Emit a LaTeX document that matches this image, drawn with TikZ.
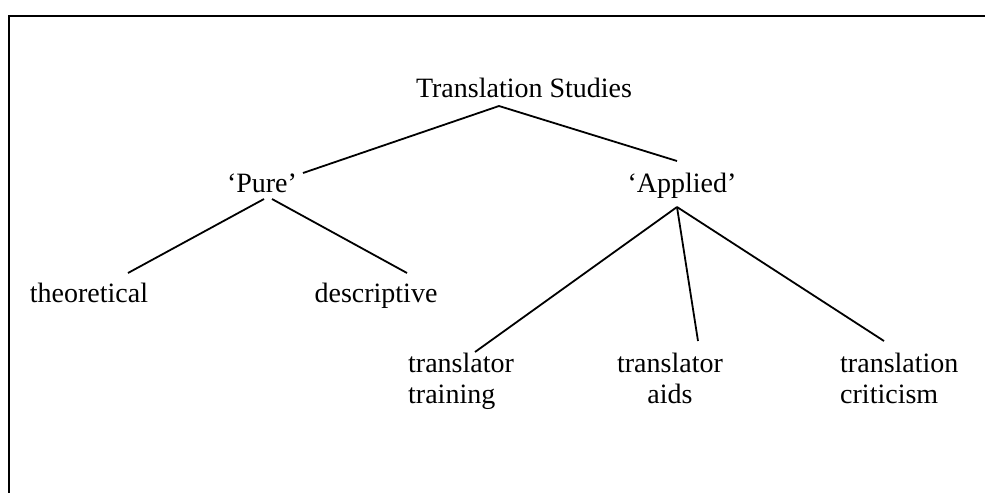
\documentclass[tikz,border=0pt]{standalone}
\usepackage{fontspec}
\setmainfont{Liberation Serif}
\usetikzlibrary{positioning}

\begin{document}
\begin{tikzpicture}[x=1pt,y=-1pt,
  term/.style={inner sep=0pt,font=\fontsize{28}{31}\selectfont},
  branch/.style={line width=1.8pt}]
  \useasboundingbox (0,0) rectangle (985,493);
  % page frame, only top and left edges show
  \draw[line width=2.2pt] (985,16) -- (9,16) -- (9,493);

  % terms
  \node[term,anchor=base] (studies) at (524,97) {Translation Studies};
  \node[term,anchor=base] (pure) at (262,192) {`Pure'};
  \node[term,anchor=base] (applied) at (682,192) {`Applied'};
  \node[term,anchor=base] (theo) at (89,302) {theoretical};
  \node[term,anchor=base] (desc) at (376,302) {descriptive};
  % two-line terms: base is the second line
  \node[term,anchor=base west,align=left] (training) at (408,403) {translator\\training};
  \node[term,anchor=base,align=center] (aids) at (670,403) {translator\\aids};
  \node[term,anchor=base west,align=left] (critic) at (840,403) {translation\\criticism};

  % branches
  \draw[branch] ([xshift=41pt,yshift=19pt]pure.base) -- ([xshift=-25pt,yshift=-9pt]studies.base)
    -- ([xshift=-5pt,yshift=31pt]applied.base);
  \draw[branch] ([xshift=39pt,yshift=29pt]theo.base) -- ([xshift=2pt,yshift=-7pt]pure.base);
  \draw[branch] ([xshift=10pt,yshift=-7pt]pure.base) -- ([xshift=31pt,yshift=29pt]desc.base);
  \draw[branch] ([xshift=-5pt,yshift=-15pt]applied.base) -- ([xshift=67pt,yshift=51pt]training.base west);
  \draw[branch] ([xshift=-5pt,yshift=-15pt]applied.base) -- ([xshift=28pt,yshift=62pt]aids.base);
  \draw[branch] ([xshift=-5pt,yshift=-15pt]applied.base) -- ([xshift=44pt,yshift=62pt]critic.base west);
\end{tikzpicture}
\end{document}
